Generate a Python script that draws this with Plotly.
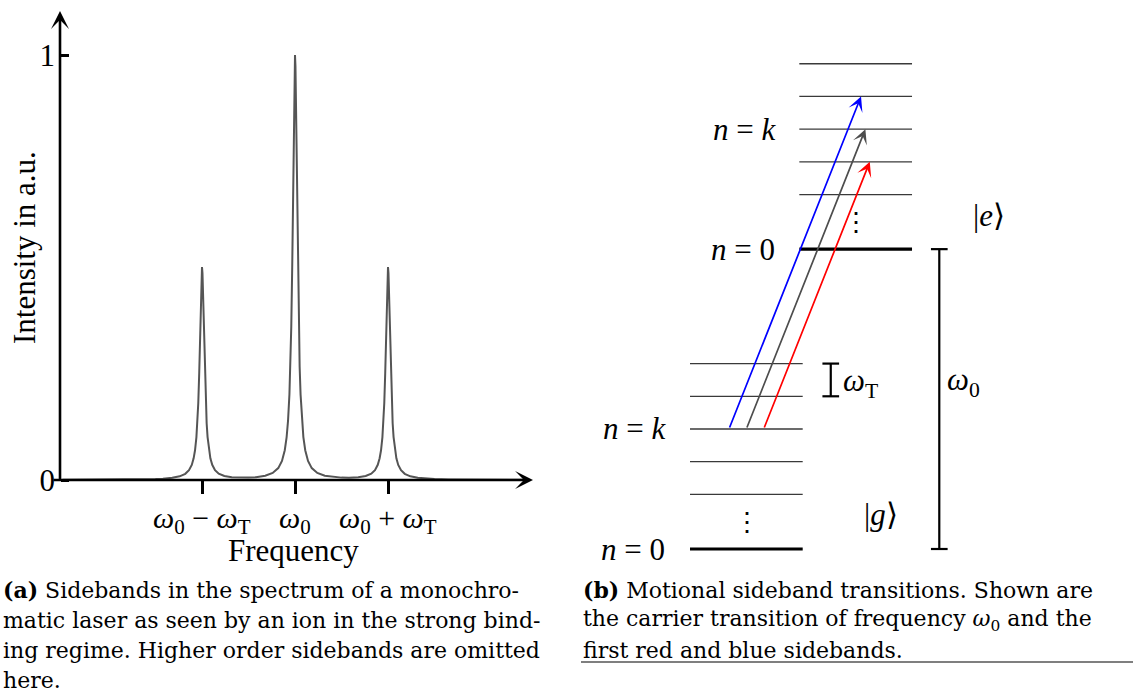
import plotly.graph_objects as go

# ---------------- data: (a) spectrum seen by the ion ----------------
# frequency in units of the trap frequency omega_T, measured from omega_0
freq_pos = [0, 0.005, 0.01, 0.015, 0.02, 0.025, 0.03, 0.04, 0.05, 0.06, 0.075, 0.09,
            0.11, 0.14, 0.18, 0.24, 0.32, 0.42, 0.5, 0.58, 0.68, 0.76, 0.82, 0.86,
            0.89, 0.91, 0.925, 0.94, 0.95, 0.96, 0.97, 0.975, 0.98, 0.985, 0.99, 0.995,
            1.0, 1.005, 1.01, 1.015, 1.02, 1.025, 1.03, 1.04, 1.05, 1.06, 1.075, 1.09,
            1.11, 1.14, 1.18, 1.24, 1.32, 1.42, 1.5, 1.65, 1.8, 2.0, 2.25, 2.5]
intensity_pos = [1.0, 0.974, 0.901, 0.801, 0.693, 0.591, 0.501, 0.361, 0.266, 0.201, 0.139, 0.101,
                 0.070, 0.0449, 0.028, 0.0165, 0.0099, 0.0066, 0.0056, 0.0054, 0.0064, 0.0094, 0.0149, 0.0232,
                 0.0358, 0.0511, 0.070, 0.101, 0.1335, 0.181, 0.251, 0.296, 0.347, 0.401, 0.451, 0.487,
                 0.501, 0.487, 0.451, 0.401, 0.347, 0.296, 0.251, 0.181, 0.1335, 0.101, 0.070, 0.051,
                 0.0355, 0.023, 0.0145, 0.0086, 0.0052, 0.0032, 0.0022, 0.0014, 0.001, 0.0007, 0.0005, 0.0003]
# the spectrum is symmetric about omega_0
freq = [-f for f in reversed(freq_pos[1:])] + freq_pos
intensity = list(reversed(intensity_pos[1:])) + intensity_pos

freq_tick_vals = [-1, 0, 1]
freq_tick_text = ["<i>ω</i><sub>0</sub> − <i>ω</i><sub>T</sub>",
                  "<i>ω</i><sub>0</sub>",
                  "<i>ω</i><sub>0</sub> + <i>ω</i><sub>T</sub>"]
intensity_tick_vals = [0, 1]
intensity_tick_text = ["0", "1"]

# ---------------- data: (b) level scheme, energies in units of omega_T ----------------
motional_offsets = [0, 1.67, 2.67, 3.67, 4.67, 5.67]   # n = 0, (gap), ..., n = k, ...
omega0 = 9.17
k_index = 3
sideband_orders = [1, 0, -1]                          # blue sideband, carrier, red sideband
sideband_colors = ["#0000ff", "#4d4d4d", "#ff0000"]
sideband_start_u = [0.346, 0.500, 0.654]

caption_a = ["<b>(a)</b> Sidebands in the spectrum of a monochro-",
             "matic laser as seen by an ion in the strong bind-",
             "ing regime. Higher order sidebands are omitted",
             "here."]
caption_b = ["<b>(b)</b> Motional sideband transitions. Shown are",
             "the carrier transition of frequency <i>ω</i><sub>0</sub> and the",
             "first red and blue sidebands."]

# ---------------- geometry / style ----------------
OFF = 0                     # page margin is removed below (post_script)
W, H = 1136 - OFF, 693 - OFF
LFONT = "Liberation Serif"
CFONT = "DejaVu Serif"

# panel (a) mapping (window pixels)
px_per_unit_x, x0_px = 93.0, 295.0
px_per_unit_y, y0_px = 425.0, 480.0
yaxis_px = 60.0
# panel (b) mapping (window pixels)
u_px, u0_px = 112.7, 690.0
e_px, e0_px = 32.7, 549.0
ground_u = (0.0, 1.0)
excited_u = (0.97, 1.97)
slope = 0.1152


def P(xp, yp):
    """window pixel -> paper coordinates"""
    return (xp - OFF) / W, 1 - (yp - OFF) / H


fig = go.Figure()

# spectrum
fig.add_trace(go.Scatter(x=freq, y=intensity, mode="lines",
                         line=dict(color="#555555", width=2), xaxis="x", yaxis="y",
                         hoverinfo="skip"))


def level_trace(offsets, base, urange, width, color):
    xs, ys = [], []
    for o in offsets:
        xs += [urange[0], urange[1], None]
        ys += [base + o, base + o, None]
    return go.Scatter(x=xs, y=ys, mode="lines", line=dict(color=color, width=width),
                      xaxis="x2", yaxis="y2", hoverinfo="skip")


fig.add_trace(level_trace(motional_offsets[1:], 0.0, ground_u, 1.3, "#3a3a3a"))
fig.add_trace(level_trace(motional_offsets[1:], omega0, excited_u, 1.3, "#3a3a3a"))
fig.add_trace(level_trace(motional_offsets[:1], 0.0, ground_u, 3.2, "black"))
fig.add_trace(level_trace(motional_offsets[:1], omega0, excited_u, 3.2, "black"))


def bracket(u, e1, e2, cap=0.074):
    return go.Scatter(x=[u, u, None, u - cap, u + cap, None, u - cap, u + cap],
                      y=[e1, e2, None, e1, e1, None, e2, e2], mode="lines",
                      line=dict(color="black", width=2.2), xaxis="x2", yaxis="y2",
                      hoverinfo="skip")


fig.add_trace(bracket(1.249, motional_offsets[4], motional_offsets[5]))
fig.add_trace(bracket(2.212, 0.0, omega0))

annotations = []
shapes = []

# axis arrows of panel (a)
x_axis_left = (52 - x0_px) / px_per_unit_x
y_axis_x = (yaxis_px - x0_px) / px_per_unit_x
annotations.append(dict(x=(533 - x0_px) / px_per_unit_x, y=0, ax=x_axis_left, ay=0,
                        xref="x", yref="y", axref="x", ayref="y",
                        text="", showarrow=True, arrowhead=3, arrowsize=1.15, arrowwidth=2.6,
                        arrowcolor="black"))
annotations.append(dict(x=y_axis_x, y=(y0_px - 11) / px_per_unit_y, ax=y_axis_x, ay=-0.004,
                        xref="x", yref="y", axref="x", ayref="y",
                        text="", showarrow=True, arrowhead=3, arrowsize=1.15, arrowwidth=2.6,
                        arrowcolor="black"))

# tick labels of the frequency axis
_, ty = P(0, 520)
for v, t in zip(freq_tick_vals, freq_tick_text):
    annotations.append(dict(x=v, y=ty, xref="x", yref="paper", text=t, showarrow=False,
                            xanchor="center", yanchor="middle",
                            font=dict(family=LFONT, size=30, color="black")))

# axis titles of panel (a)
x_, y_ = P(293, 550)
annotations.append(dict(x=x_, y=y_, xref="paper", yref="paper", text="Frequency", showarrow=False,
                        font=dict(family=LFONT, size=31, color="black"), xanchor="center", yanchor="middle"))
x_, y_ = P(24, 248)
annotations.append(dict(x=x_, y=y_, xref="paper", yref="paper", text="Intensity in a.u.", showarrow=False,
                        textangle=-90, font=dict(family=LFONT, size=31, color="black"),
                        xanchor="center", yanchor="middle"))

# transition arrows
E_k = motional_offsets[k_index]
for order, col, us in zip(sideband_orders, sideband_colors, sideband_start_u):
    E_end = omega0 + E_k + order
    u_end = us + slope * (E_end - E_k)
    annotations.append(dict(x=u_end, y=E_end, ax=us, ay=E_k, xref="x2", yref="y2", axref="x2", ayref="y2",
                            text="", showarrow=True, arrowhead=3, arrowsize=1.45, arrowwidth=1.7,
                            arrowcolor=col))

lab_font = dict(family=LFONT, size=31, color="black")
lbl = [
    dict(x=0.781, y=omega0 + E_k, text="<i>n</i> = <i>k</i>"),
    dict(x=0.772, y=omega0, text="<i>n</i> = 0"),
    dict(x=-0.193, y=E_k, text="<i>n</i> = <i>k</i>"),
    dict(x=-0.201, y=0.0, text="<i>n</i> = 0"),
]
for a in lbl:
    a.update(xref="x2", yref="y2", showarrow=False, xanchor="right", yanchor="middle", font=lab_font)
annotations += lbl

lbl = [
    dict(x=1.337, y=5.08, text="<i>ω</i><sub>T</sub>", xanchor="left", font=lab_font),
    dict(x=2.263, y=5.1, text="<i>ω</i><sub>0</sub>", xanchor="left", font=lab_font),
    dict(x=2.653, y=10.21, text="|<i>e</i>⟩", xanchor="center", font=lab_font),
    dict(x=1.695, y=1.04, text="|<i>g</i>⟩", xanchor="center", font=lab_font),
    dict(x=1.473, y=9.98, text="⋮", xanchor="center", font=dict(family=LFONT, size=26, color="black")),
    dict(x=0.503, y=0.81, text="⋮", xanchor="center", font=dict(family=LFONT, size=26, color="black")),
]
for a in lbl:
    a.update(xref="x2", yref="y2", showarrow=False, yanchor="middle")
annotations += lbl

# captions
cap_font = dict(family=CFONT, size=22, color="black")
for i, line in enumerate(caption_a):
    x_, y_ = P(1, 590 + 30 * i)
    annotations.append(dict(x=x_, y=y_, xref="paper", yref="paper", text=line, showarrow=False,
                            xanchor="left", yanchor="middle", font=cap_font))
for i, line in enumerate(caption_b):
    x_, y_ = P(581, 590 + 30 * i)
    annotations.append(dict(x=x_, y=y_, xref="paper", yref="paper", text=line, showarrow=False,
                            xanchor="left", yanchor="middle", font=cap_font))

x1_, y1_ = P(581, 662)
x2_, _ = P(1133, 662)
shapes.append(dict(type="line", xref="paper", yref="paper", x0=x1_, x1=x2_, y0=y1_, y1=y1_,
                   line=dict(color="#555555", width=1.3)))

fig.update_layout(
    width=W, height=H, margin=dict(l=0, r=0, t=0, b=0),
    paper_bgcolor="white", plot_bgcolor="rgba(0,0,0,0)", showlegend=False,
    xaxis=dict(domain=[0, (560 - OFF) / W],
               range=[(OFF - x0_px) / px_per_unit_x, (560 - x0_px) / px_per_unit_x],
               anchor="free", position=(H - (y0_px - OFF)) / H,
               showline=False, showgrid=False, zeroline=False,
               ticks="outside", ticklen=13, tickwidth=2.5, tickcolor="black",
               tickvals=freq_tick_vals, showticklabels=False, fixedrange=True),
    yaxis=dict(domain=[0, 1],
               range=[(y0_px - 693) / px_per_unit_y, (y0_px - OFF) / px_per_unit_y],
               anchor="free", position=(yaxis_px - OFF) / W,
               showline=False, showgrid=False, zeroline=False,
               ticks="inside", ticklen=8, tickwidth=2.5, tickcolor="black",
               tickvals=intensity_tick_vals, ticktext=intensity_tick_text, ticklabelstandoff=5,
               tickfont=dict(family=LFONT, size=31, color="black"), fixedrange=True),
    xaxis2=dict(domain=[0, 1], range=[(OFF - u0_px) / u_px, (1136 - u0_px) / u_px], anchor="y2",
                visible=False, fixedrange=True),
    yaxis2=dict(domain=[0, 1], range=[(e0_px - 693) / e_px, (e0_px - OFF) / e_px], anchor="x2",
                visible=False, fixedrange=True),
    annotations=annotations, shapes=shapes,
)

fig.write_html("out.html", config={"displayModeBar": False},
               post_script="document.body.style.margin='0px';document.body.style.overflow='hidden';")
